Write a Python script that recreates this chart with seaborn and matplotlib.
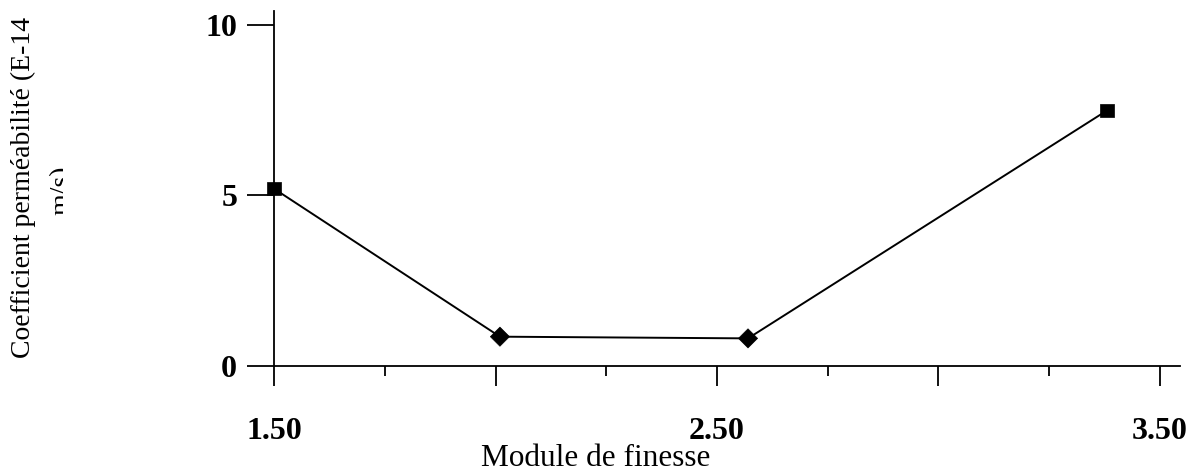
import matplotlib
matplotlib.use("Agg")
import matplotlib.pyplot as plt
import seaborn as sns
import pandas as pd
from matplotlib.patches import Rectangle
from matplotlib.ticker import FixedLocator

# ---- data ----
module_finesse = [1.50, 2.01, 2.57, 3.38]
permeabilite = [5.2, 0.86, 0.81, 7.49]
marker_kind = ["sq", "dm", "dm", "sq"]
x_major = [1.5, 2.0, 2.5, 3.0, 3.5]
x_major_labels = ["1.50", "", "2.50", "", "3.50"]
x_minor = [1.75, 2.25, 2.75, 3.25]
y_ticks = [0, 5, 10]
y_tick_labels = ["0", "5", "10"]

df = pd.DataFrame({"x": module_finesse, "y": permeabilite, "m": marker_kind})

sns.set_style("white")
plt.rcParams["font.family"] = ["Liberation Serif", "DejaVu Serif"]

W, H = 1187, 473
fig = plt.figure(figsize=(W / 100, H / 100), dpi=100)
ax = fig.add_axes([274 / W, (H - 366) / H, 906 / W, 355 / H])

sns.lineplot(data=df, x="x", y="y", ax=ax, color="black", linewidth=1.4,
             sort=False, legend=False)
sns.scatterplot(data=df, x="x", y="y", style="m", markers={"sq": "s", "dm": "D"},
                ax=ax, color="black", s=95, edgecolor="black", linewidth=0.5,
                legend=False, zorder=5, clip_on=False)

ax.set_xlim(1.5, 1.5 + 906 / 443)
ax.set_ylim(0, 10.41)

ax.xaxis.set_major_locator(FixedLocator(x_major))
ax.set_xticklabels(x_major_labels)
ax.xaxis.set_minor_locator(FixedLocator(x_minor))
ax.set_yticks(y_ticks)
ax.set_yticklabels(y_tick_labels)

for s in ["top", "right"]:
    ax.spines[s].set_visible(False)
for s in ["left", "bottom"]:
    ax.spines[s].set_linewidth(1.3)
    ax.spines[s].set_color("black")

ax.tick_params(axis="x", which="major", direction="out", length=14.5, width=1.3,
               pad=22, labelsize=23, colors="black", bottom=True)
ax.tick_params(axis="x", which="minor", direction="out", length=7.2, width=1.3,
               colors="black", bottom=True)
ax.tick_params(axis="y", which="major", direction="out", length=19.5, width=1.3,
               pad=7, labelsize=23, colors="black", left=True)
for lab in ax.get_xticklabels() + ax.get_yticklabels():
    lab.set_fontweight("bold")

ax.set_xlabel("Module de finesse", fontsize=22.5, color="black", va="top")
ax.xaxis.set_label_coords((596 - 274) / 906, (366 - 444) / 355)
ax.set_ylabel("")

fig.text(23 / W, (H - 188) / H, "Coefficient perméabilité (E-14",
         rotation=90, ha="center", va="center", fontsize=20, color="black")
fig.text(61.5 / W, (H - 190) / H, "m/s)",
         rotation=90, ha="center", va="center", fontsize=20, color="black")
# the second line of the label is cut off in the original chart
cover = Rectangle((63.5 / W, (H - 245) / H), 25 / W, 110 / H,
                  transform=fig.transFigure, facecolor="white",
                  edgecolor="none", zorder=10)
fig.patches.append(cover)

fig.savefig("out.png", dpi=100, facecolor="white")
